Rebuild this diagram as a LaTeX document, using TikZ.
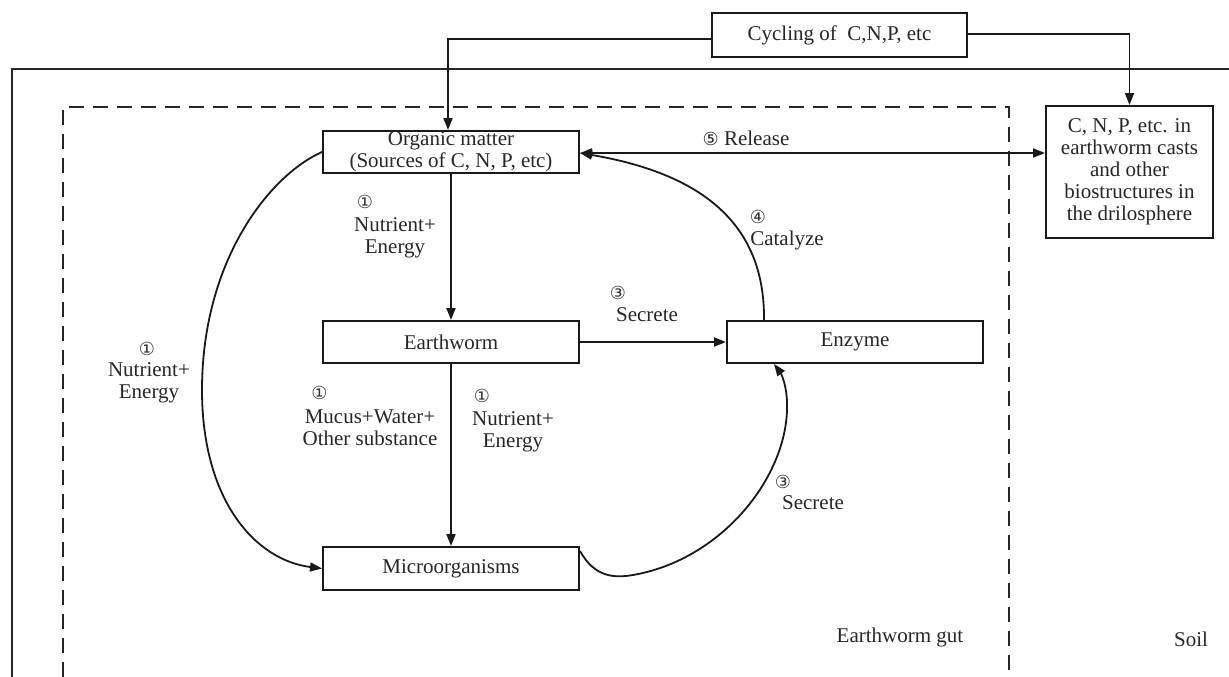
\documentclass[tikz,border=0pt]{standalone}
\usepackage{fontspec}
\setmainfont{Liberation Serif}
\newfontfamily\symf{DejaVu Sans}
\usetikzlibrary{arrows.meta,calc}
\begin{document}
\begin{tikzpicture}[x=1pt,y=-1pt,
  box/.style={draw=black!90, line width=2pt, inner sep=0pt, align=center,
    font=\fontsize{21}{22}\selectfont, text=black!85},
  arr/.style={draw=black!90, line width=1.8pt, -{Triangle[length=12pt,width=9pt]}},
  arrb/.style={draw=black!90, line width=1.8pt, {Triangle[length=12pt,width=9pt]}-{Triangle[length=12pt,width=9pt]}},
  frame/.style={draw=black!85, line width=1.8pt},
  gut/.style={draw=black!85, line width=2pt, dash pattern=on 15pt off 9pt},
  lab/.style={font=\fontsize{21}{22}\selectfont, align=center, inner sep=0pt, text=black!85},
  num/.style={font=\symf\fontsize{18}{18}\selectfont, inner sep=0pt, text=black!80}]
\useasboundingbox (0,0) rectangle (1229,677);
% frame and gut
\draw[frame] (12,677) -- (12,69) -- (1229,69);
\draw[gut] (63,677) -- (63,107) -- (1009,107) -- (1009,677);
% boxes
\node[box, minimum width=255pt, minimum height=44pt] (cyc) at (839.5,35) {Cycling of\ \ C,N,P, etc};
\node[box, minimum width=256pt, minimum height=42pt] (org) at (451,152) {Organic matter\\(Sources of C, N, P, etc)};
\node[box, minimum width=256pt, minimum height=42pt] (ew) at (451,342) {Earthworm};
\node[box, minimum width=256pt, minimum height=43pt] (mic) at (451,568.5) {Microorganisms};
\node[box, minimum width=256pt, minimum height=42pt] (enz) at (855,342) {Enzyme};
\node[box, minimum width=167pt, minimum height=132pt] (rb) at (1129.5,172) {C, N, P, etc. in\\earthworm casts\\and other\\biostructures in\\the drilosphere};
% connectors
\draw[arr] ([yshift=-4pt]cyc.west) -| ([xshift=-3pt]org.north);
\draw[arr] ([yshift=1pt]cyc.east) -| (rb.north);
\draw[arrb] ([yshift=-1pt]org.east) -- ([yshift=-1pt]org.east -| rb.west);
\draw[arr] (org.south) -- (ew.north);
\draw[arr] (ew.south) -- (mic.north);
\draw[arr] (ew.east) -- (enz.west);
\draw[arr] ($(enz.north west)+(38,0)$) .. controls (765,230) and (710,175) .. ([yshift=-1pt]org.east);
\draw[arr] (org.west) .. controls (270,175) and (202,260) .. (202,390)
   .. controls (202,500) and (255,560) .. (mic.west);
\draw[arr] ($(mic.north east)+(0,5)$) .. controls (595,578) and (615,578) .. (633,575)
   .. controls (720,560) and (785,480) .. (787,410)
   .. controls (788,385) and (780,372) .. ($(enz.south west)+(48,0)$);
% labels
\node[lab] (rel) at (746,138) {{\symf\fontsize{18}{18}\selectfont ⑤} Release};
\node[num] (n1a) at (365,202) {①};
\node[lab] (l1a) at (395,238) {Nutrient+\\Energy};
\node[num] (n1b) at (147,349) {①};
\node[lab] (l1b) at (149,383) {Nutrient+\\Energy};
\node[num] (n1c) at (319.5,393) {①};
\node[lab] (l1c) at (370,428) {Mucus+Water+\\Other substance};
\node[num] (n1d) at (482,396) {①};
\node[lab] (l1d) at (513,432) {Nutrient+\\Energy};
\node[num] (n3a) at (618,293) {③};
\node[lab] (l3a) at (647,315) {Secrete};
\node[num] (n3b) at (783,482) {③};
\node[lab] (l3b) at (813,503) {Secrete};
\node[num] (n4) at (758,217) {④};
\node[lab] (l4) at (787,240) {Catalyze};
\node[lab] (gutl) at (900,637) {Earthworm gut};
\node[lab] (soil) at (1191,639) {Soil};
\end{tikzpicture}
\end{document}
